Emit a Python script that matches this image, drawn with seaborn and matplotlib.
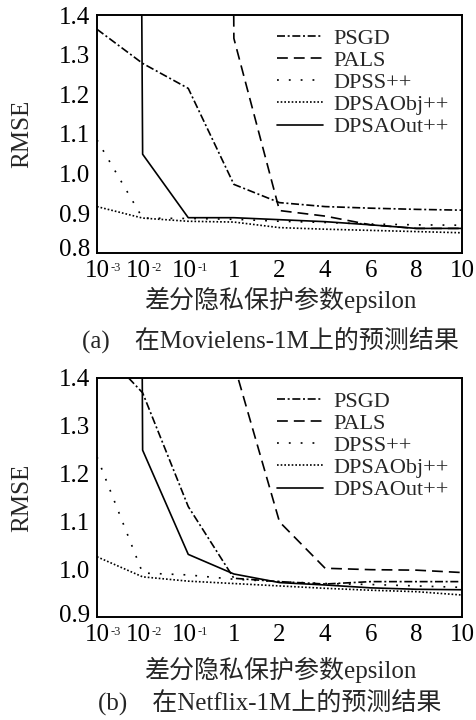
import numpy as np
import pandas as pd
import matplotlib
matplotlib.use("Agg")
import matplotlib.pyplot as plt
from matplotlib.lines import Line2D
import matplotlib.transforms as mtransforms
import seaborn as sns

sns.set_style("white")
plt.rcParams['font.family'] = ['Liberation Serif', 'Noto Sans CJK SC']

# ---------------- data ----------------
eps_base = ['10', '10', '10', '1', '2', '4', '6', '8', '10']
eps_sup = ['-3', '-2', '-1', '', '', '', '', '', '']
methods = ['PSGD', 'PALS', 'DPSS++', 'DPSAObj++', 'DPSAOut++']
nan = np.nan

ml_psgd = [1.364, 1.278, 1.215, 0.973, 0.927, 0.917, 0.913, 0.910, 0.908]
ml_pals = [nan, nan, 20.0, 1.341, 0.907, 0.893, 0.871, 0.862, 0.862]
ml_dpss = [1.085, 0.888, 0.887, 0.885, 0.880, 0.877, 0.873, 0.871, 0.870]
ml_obj = [0.917, 0.888, 0.880, 0.878, 0.864, 0.860, 0.857, 0.854, 0.851]
ml_out = [20.0, 1.049, 0.889, 0.889, 0.884, 0.879, 0.871, 0.862, 0.862]

nf_psgd = [1.47, 1.369, 1.131, 0.981, 0.974, 0.969, 0.974, 0.974, 0.974]
nf_pals = [nan, nan, nan, 1.43, 1.099, 1.002, 0.999, 0.998, 0.993]
nf_dpss = [1.235, 0.992, 0.988, 0.979, 0.974, 0.970, 0.968, 0.965, 0.962]
nf_obj = [1.026, 0.984, 0.975, 0.970, 0.965, 0.960, 0.956, 0.953, 0.946]
nf_out = [20.0, 1.249, 1.031, 0.990, 0.972, 0.967, 0.961, 0.958, 0.957]

ml_series = [ml_psgd, ml_pals, ml_dpss, ml_obj, ml_out]
nf_series = [nf_psgd, nf_pals, nf_dpss, nf_obj, nf_out]

ml_yticks = [0.8, 0.9, 1.0, 1.1, 1.2, 1.3, 1.4]
nf_yticks = [0.9, 1.0, 1.1, 1.2, 1.3, 1.4]

xlabel = '差分隐私保护参数epsilon'
caption_a = '(a)    在Movielens-1M上的预测结果'
caption_b = '(b)    在Netflix-1M上的预测结果'

# ---------------- styles ----------------
LW = 1.2
styles = {
    'PSGD': (0, (4.8, 1.6, 1.2, 1.6)),
    'PALS': (0, (6.5, 3.6)),
    'DPSS++': (0, (1.1, 6.0)),
    'DPSAObj++': (0, (1.0, 1.2)),
    'DPSAOut++': '-',
}

FS = 18
LFS = 16
SFS = 9

fig = plt.figure(figsize=(4.76, 7.2), dpi=100)
ax1 = fig.add_axes([97/476, 1-253/720, (462-97)/476, (253-15)/720])
ax2 = fig.add_axes([97/476, 1-617/720, (462-97)/476, (617-378)/720])


def draw(ax, series, yticks, ylim, ylab_lift):
    x = np.arange(len(eps_base))
    for name, vals in zip(methods, series):
        df = pd.DataFrame({'x': x, 'y': vals}).dropna()
        sns.lineplot(data=df, x='x', y='y', ax=ax, color='black', lw=LW,
                     linestyle=styles[name], legend=False, estimator=None)
    ax.set_xlim(0, len(eps_base) - 1)
    ax.set_ylim(*ylim)
    ax.set_xticks(x)
    ax.set_xticklabels(eps_base)
    ax.set_yticks(yticks)
    ax.set_yticklabels([f'{v:.1f}' for v in yticks])
    ax.tick_params(axis='both', direction='in', length=5, width=1.2,
                   labelsize=FS, colors='black', pad=5)
    ax.tick_params(axis='x', pad=5)
    # lift the lowest y tick label a little, as in the original
    lift = mtransforms.ScaledTranslation(0, ylab_lift/72, fig.dpi_scale_trans)
    ylab0 = ax.get_yticklabels()[0]
    ylab0.set_transform(ylab0.get_transform() + lift)
    # x labels with small superscripts
    sup_dx = []
    for i, (lab, sup) in enumerate(zip(ax.get_xticklabels(), eps_sup)):
        if sup and i > 0:
            shift = mtransforms.ScaledTranslation(-3.0/72, 0, fig.dpi_scale_trans)
            lab.set_transform(lab.get_transform() + shift)
            sup_dx.append(6.6)
        else:
            sup_dx.append(9.4)
    trans = mtransforms.blended_transform_factory(ax.transData, ax.transAxes)
    for xi, sup, dx in zip(x, eps_sup, sup_dx):
        if sup:
            ax.annotate(sup, xy=(xi, 0), xycoords=trans, xytext=(dx, -6.3),
                        textcoords='offset points', ha='left', va='top',
                        fontsize=SFS, annotation_clip=False)
    for s in ax.spines.values():
        s.set_linewidth(1.4)
        s.set_color('black')
    ax.set_xlabel('')
    ax.set_ylabel('RMSE', fontsize=FS)
    ax.yaxis.set_label_coords(-0.175, 0.5)
    handles = [Line2D([], [], color='black', lw=LW, linestyle=styles[m]) for m in methods]
    ax.legend(handles, methods, loc='upper right', frameon=False, fontsize=LFS,
              handlelength=2.1, handletextpad=0.45, labelspacing=0.07,
              bbox_to_anchor=(1.0, 1.0), borderaxespad=0.2)


draw(ax1, ml_series, ml_yticks, (0.8, 1.4), 4.0)
draw(ax2, nf_series, nf_yticks, (0.9, 1.4), 2.5)

cx = 280/476
fig.text(cx, 1-300/720, xlabel, ha='center', va='center', fontsize=FS)
fig.text(270/476, 1-340/720, caption_a, ha='center', va='center', fontsize=FS)
fig.text(cx, 1-670/720, xlabel, ha='center', va='center', fontsize=FS)
fig.text(270/476, 1-702/720, caption_b, ha='center', va='center', fontsize=FS)

fig.savefig('out.png', dpi=100)
